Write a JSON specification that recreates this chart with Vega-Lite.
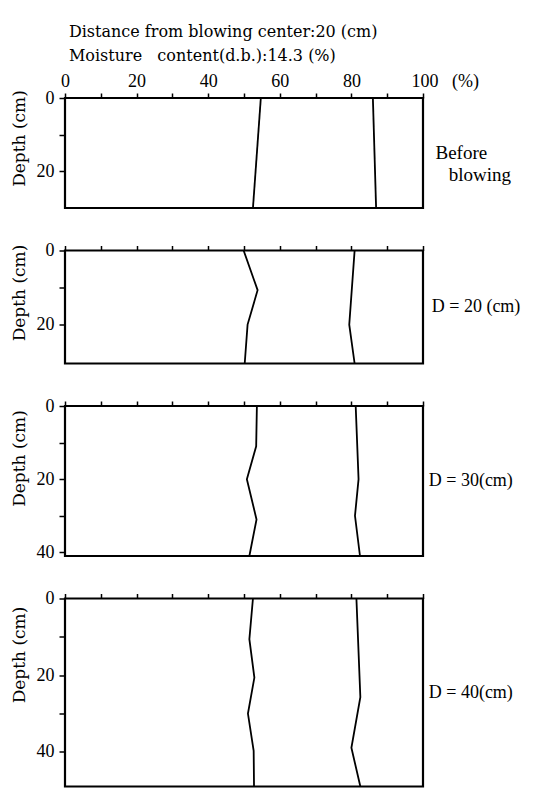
{
  "$schema": "https://vega.github.io/schema/vega-lite/v6.json",
  "background": "white",
  "padding": {"left": 8, "top": 23, "right": 5, "bottom": 3},
  "bounds": "flush",
  "spacing": 42.5,
  "title": {
    "text": ["Distance from blowing center:20 (cm)", "Moisture\u00a0\u00a0 content(d.b.):14.3 (%)"],
    "anchor": "start",
    "frame": "bounds",
    "font": "DejaVu Serif",
    "fontSize": 16,
    "fontWeight": "normal",
    "color": "black",
    "lineHeight": 24,
    "dx": 60,
    "offset": 7
  },
  "config": {
    "view": {"stroke": "black", "strokeWidth": 2.2},
    "font": "Liberation Serif",
    "axis": {
      "domain": false,
      "grid": false,
      "tickColor": "black",
      "tickWidth": 1.5,
      "labelColor": "black",
      "labelFont": "Liberation Serif",
      "labelFontSize": 18,
      "labelFlush": false,
      "labelOverlap": false,
      "labelBound": false,
      "titleFont": "DejaVu Serif",
      "titleFontSize": 17,
      "titleFontWeight": "normal",
      "titleColor": "black"
    },
    "line": {"color": "black", "strokeWidth": 1.8}
  },
  "data": {
    "values": [
      {"panel": "p1", "series": "a", "depth": 0, "moisture": 54.7},
      {"panel": "p1", "series": "a", "depth": 30, "moisture": 52.5},
      {"panel": "p1", "series": "b", "depth": 0, "moisture": 86.0},
      {"panel": "p1", "series": "b", "depth": 30, "moisture": 86.9},

      {"panel": "p2", "series": "a", "depth": 0, "moisture": 49.9},
      {"panel": "p2", "series": "a", "depth": 10.7, "moisture": 53.8},
      {"panel": "p2", "series": "a", "depth": 20, "moisture": 51.0},
      {"panel": "p2", "series": "a", "depth": 30.5, "moisture": 50.2},
      {"panel": "p2", "series": "b", "depth": 0, "moisture": 80.9},
      {"panel": "p2", "series": "b", "depth": 20, "moisture": 79.4},
      {"panel": "p2", "series": "b", "depth": 30.5, "moisture": 80.9},

      {"panel": "p3", "series": "a", "depth": 0, "moisture": 53.6},
      {"panel": "p3", "series": "a", "depth": 11, "moisture": 53.4},
      {"panel": "p3", "series": "a", "depth": 20, "moisture": 50.8},
      {"panel": "p3", "series": "a", "depth": 31, "moisture": 53.5},
      {"panel": "p3", "series": "a", "depth": 41, "moisture": 51.5},
      {"panel": "p3", "series": "b", "depth": 0, "moisture": 81.2},
      {"panel": "p3", "series": "b", "depth": 20, "moisture": 82.0},
      {"panel": "p3", "series": "b", "depth": 30, "moisture": 81.0},
      {"panel": "p3", "series": "b", "depth": 41, "moisture": 82.4},

      {"panel": "p4", "series": "a", "depth": 0, "moisture": 52.5},
      {"panel": "p4", "series": "a", "depth": 10.6, "moisture": 51.5},
      {"panel": "p4", "series": "a", "depth": 20.6, "moisture": 52.9},
      {"panel": "p4", "series": "a", "depth": 30, "moisture": 51.1},
      {"panel": "p4", "series": "a", "depth": 39.7, "moisture": 52.7},
      {"panel": "p4", "series": "a", "depth": 49, "moisture": 52.8},
      {"panel": "p4", "series": "b", "depth": 0, "moisture": 81.4},
      {"panel": "p4", "series": "b", "depth": 25.7, "moisture": 82.5},
      {"panel": "p4", "series": "b", "depth": 38.9, "moisture": 80.0},
      {"panel": "p4", "series": "b", "depth": 49, "moisture": 82.5}
    ]
  },
  "vconcat": [
    {
      "width": 358,
      "height": 110,
      "title": {"text": ["Before\u00a0\u00a0\u00a0\u00a0\u00a0\u200b", "blowing"], "orient": "right", "angle": 0, "align": "right", "baseline": "middle", "anchor": "middle", "offset": 10, "dx": -53, "fontSize": 19, "fontWeight": "normal", "font": "Liberation Serif", "color": "black", "lineHeight": 22},
      "transform": [{"filter": "datum.panel === 'p1'"}],
      "mark": {"type": "line"},
      "encoding": {
        "x": {"field": "moisture", "type": "quantitative", "scale": {"domain": [0, 100], "nice": false},
          "axis": {"orient": "top", "title": null, "values": [0, 10, 20, 30, 40, 50, 60, 70, 80, 90, 100], "tickSize": 5, "labelPadding": 3,
            "labelExpr": "datum.value === 100 ? '100\u00a0\u00a0\u00a0(%)' : (datum.value % 20 === 0 ? datum.label : '')",
            "labelAlign": {"expr": "datum.value === 100 ? 'left' : 'center'"},
            "labelOffset": {"expr": "datum.value === 100 ? -12 : 0"}}},
        "y": {"field": "depth", "type": "quantitative", "scale": {"domain": [0, 30], "reverse": true, "nice": false, "zero": false},
          "axis": {"title": "Depth (cm)", "titleY": 40, "values": [0, 10, 20], "tickSize": 6, "labelPadding": 5, "titlePadding": 8,
            "labelExpr": "datum.value % 20 === 0 ? datum.label : ''"}},
        "detail": {"field": "series"},
        "order": {"field": "depth", "type": "quantitative"}
      }
    },
    {
      "width": 358,
      "height": 113,
      "title": {"text": "D = 20 (cm)", "orient": "right", "angle": 0, "align": "right", "baseline": "middle", "anchor": "middle", "offset": 8, "fontSize": 18, "fontWeight": "normal", "font": "Liberation Serif", "color": "black"},
      "transform": [{"filter": "datum.panel === 'p2'"}],
      "mark": {"type": "line"},
      "encoding": {
        "x": {"field": "moisture", "type": "quantitative", "scale": {"domain": [0, 100], "nice": false},
          "axis": {"orient": "top", "title": null, "labels": false, "values": [0, 10, 20, 30, 40, 50, 60, 70, 80, 90, 100], "tickSize": 5}},
        "y": {"field": "depth", "type": "quantitative", "scale": {"domain": [0, 30.5], "reverse": true, "nice": false, "zero": false},
          "axis": {"title": "Depth (cm)", "titleY": 42, "values": [0, 10, 20], "tickSize": 6, "labelPadding": 5, "titlePadding": 8,
            "labelExpr": "datum.value % 20 === 0 ? datum.label : ''"}},
        "detail": {"field": "series"},
        "order": {"field": "depth", "type": "quantitative"}
      }
    },
    {
      "width": 358,
      "height": 150,
      "title": {"text": "D = 30(cm)", "orient": "right", "angle": 0, "align": "right", "baseline": "middle", "anchor": "middle", "offset": 5, "fontSize": 18, "fontWeight": "normal", "font": "Liberation Serif", "color": "black"},
      "transform": [{"filter": "datum.panel === 'p3'"}],
      "mark": {"type": "line"},
      "encoding": {
        "x": {"field": "moisture", "type": "quantitative", "scale": {"domain": [0, 100], "nice": false},
          "axis": {"orient": "top", "title": null, "labels": false, "values": [0, 10, 20, 30, 40, 50, 60, 70, 80, 90, 100], "tickSize": 5}},
        "y": {"field": "depth", "type": "quantitative", "scale": {"domain": [0, 41], "reverse": true, "nice": false, "zero": false},
          "axis": {"title": "Depth (cm)", "titleY": 52, "values": [0, 10, 20, 30, 40], "tickSize": 6, "labelPadding": 5, "titlePadding": 8,
            "labelExpr": "datum.value % 20 === 0 ? datum.label : ''"}},
        "detail": {"field": "series"},
        "order": {"field": "depth", "type": "quantitative"}
      }
    },
    {
      "width": 358,
      "height": 188,
      "title": {"text": "D = 40(cm)", "orient": "right", "angle": 0, "align": "right", "baseline": "middle", "anchor": "middle", "offset": 5, "fontSize": 18, "fontWeight": "normal", "font": "Liberation Serif", "color": "black"},
      "transform": [{"filter": "datum.panel === 'p4'"}],
      "mark": {"type": "line"},
      "encoding": {
        "x": {"field": "moisture", "type": "quantitative", "scale": {"domain": [0, 100], "nice": false},
          "axis": {"orient": "top", "title": null, "labels": false, "values": [0, 10, 20, 30, 40, 50, 60, 70, 80, 90, 100], "tickSize": 5}},
        "y": {"field": "depth", "type": "quantitative", "scale": {"domain": [0, 49], "reverse": true, "nice": false, "zero": false},
          "axis": {"title": "Depth (cm)", "titleY": 56, "values": [0, 10, 20, 30, 40], "tickSize": 6, "labelPadding": 5, "titlePadding": 8,
            "labelExpr": "datum.value % 20 === 0 ? datum.label : ''"}},
        "detail": {"field": "series"},
        "order": {"field": "depth", "type": "quantitative"}
      }
    }
  ]
}
